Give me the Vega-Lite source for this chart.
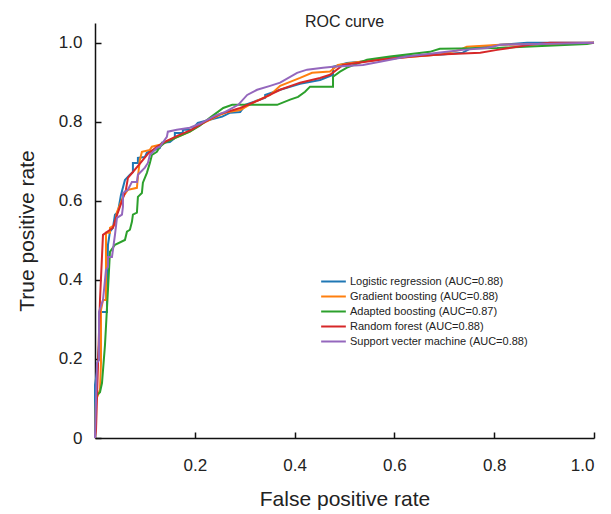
{
  "$schema": "https://vega.github.io/schema/vega-lite/v6.json",
  "width": 499,
  "height": 415,
  "autosize": {"type": "none"},
  "padding": {"left": 95, "top": 23, "right": 17, "bottom": 76},
  "background": "white",
  "title": {"text": "ROC curve", "fontSize": 16, "font": "Liberation Sans", "fontWeight": "normal", "color": "#222", "anchor": "middle", "offset": -7},
  "config": {
    "view": {"stroke": null},
    "axis": {"grid": false, "domainColor": "#111", "domainWidth": 1.5, "tickColor": "#111", "tickWidth": 1.5, "labelColor": "#222", "titleColor": "#222", "labelFont": "Liberation Sans", "titleFont": "Liberation Sans", "titleFontWeight": "normal"},
    "legend": {"labelFont": "Liberation Sans"}
  },
  "data": {"values": [
    {"m":"Logistic regression (AUC=0.88)","i":0,"x":0,"y":0},
    {"m":"Logistic regression (AUC=0.88)","i":1,"x":0,"y":0.134},
    {"m":"Logistic regression (AUC=0.88)","i":2,"x":0.004,"y":0.167},
    {"m":"Logistic regression (AUC=0.88)","i":3,"x":0.006,"y":0.197},
    {"m":"Logistic regression (AUC=0.88)","i":4,"x":0.010,"y":0.273},
    {"m":"Logistic regression (AUC=0.88)","i":5,"x":0.010,"y":0.319},
    {"m":"Logistic regression (AUC=0.88)","i":6,"x":0.024,"y":0.319},
    {"m":"Logistic regression (AUC=0.88)","i":7,"x":0.024,"y":0.362},
    {"m":"Logistic regression (AUC=0.88)","i":8,"x":0.026,"y":0.489},
    {"m":"Logistic regression (AUC=0.88)","i":9,"x":0.030,"y":0.522},
    {"m":"Logistic regression (AUC=0.88)","i":10,"x":0.036,"y":0.532},
    {"m":"Logistic regression (AUC=0.88)","i":11,"x":0.040,"y":0.565},
    {"m":"Logistic regression (AUC=0.88)","i":12,"x":0.046,"y":0.572},
    {"m":"Logistic regression (AUC=0.88)","i":13,"x":0.052,"y":0.615},
    {"m":"Logistic regression (AUC=0.88)","i":14,"x":0.060,"y":0.653},
    {"m":"Logistic regression (AUC=0.88)","i":15,"x":0.070,"y":0.666},
    {"m":"Logistic regression (AUC=0.88)","i":16,"x":0.076,"y":0.673},
    {"m":"Logistic regression (AUC=0.88)","i":17,"x":0.076,"y":0.696},
    {"m":"Logistic regression (AUC=0.88)","i":18,"x":0.086,"y":0.696},
    {"m":"Logistic regression (AUC=0.88)","i":19,"x":0.086,"y":0.709},
    {"m":"Logistic regression (AUC=0.88)","i":20,"x":0.100,"y":0.711},
    {"m":"Logistic regression (AUC=0.88)","i":21,"x":0.104,"y":0.722},
    {"m":"Logistic regression (AUC=0.88)","i":22,"x":0.130,"y":0.734},
    {"m":"Logistic regression (AUC=0.88)","i":23,"x":0.134,"y":0.747},
    {"m":"Logistic regression (AUC=0.88)","i":24,"x":0.150,"y":0.749},
    {"m":"Logistic regression (AUC=0.88)","i":25,"x":0.160,"y":0.759},
    {"m":"Logistic regression (AUC=0.88)","i":26,"x":0.160,"y":0.772},
    {"m":"Logistic regression (AUC=0.88)","i":27,"x":0.176,"y":0.772},
    {"m":"Logistic regression (AUC=0.88)","i":28,"x":0.176,"y":0.780},
    {"m":"Logistic regression (AUC=0.88)","i":29,"x":0.194,"y":0.780},
    {"m":"Logistic regression (AUC=0.88)","i":30,"x":0.206,"y":0.797},
    {"m":"Logistic regression (AUC=0.88)","i":31,"x":0.230,"y":0.805},
    {"m":"Logistic regression (AUC=0.88)","i":32,"x":0.255,"y":0.813},
    {"m":"Logistic regression (AUC=0.88)","i":33,"x":0.271,"y":0.823},
    {"m":"Logistic regression (AUC=0.88)","i":34,"x":0.291,"y":0.825},
    {"m":"Logistic regression (AUC=0.88)","i":35,"x":0.297,"y":0.835},
    {"m":"Logistic regression (AUC=0.88)","i":36,"x":0.301,"y":0.843},
    {"m":"Logistic regression (AUC=0.88)","i":37,"x":0.341,"y":0.861},
    {"m":"Logistic regression (AUC=0.88)","i":38,"x":0.341,"y":0.868},
    {"m":"Logistic regression (AUC=0.88)","i":39,"x":0.371,"y":0.881},
    {"m":"Logistic regression (AUC=0.88)","i":40,"x":0.411,"y":0.896},
    {"m":"Logistic regression (AUC=0.88)","i":41,"x":0.451,"y":0.906},
    {"m":"Logistic regression (AUC=0.88)","i":42,"x":0.477,"y":0.919},
    {"m":"Logistic regression (AUC=0.88)","i":43,"x":0.477,"y":0.939},
    {"m":"Logistic regression (AUC=0.88)","i":44,"x":0.505,"y":0.949},
    {"m":"Logistic regression (AUC=0.88)","i":45,"x":0.531,"y":0.952},
    {"m":"Logistic regression (AUC=0.88)","i":46,"x":0.611,"y":0.965},
    {"m":"Logistic regression (AUC=0.88)","i":47,"x":0.697,"y":0.970},
    {"m":"Logistic regression (AUC=0.88)","i":48,"x":0.737,"y":0.975},
    {"m":"Logistic regression (AUC=0.88)","i":49,"x":0.752,"y":0.985},
    {"m":"Logistic regression (AUC=0.88)","i":50,"x":0.812,"y":0.995},
    {"m":"Logistic regression (AUC=0.88)","i":51,"x":0.866,"y":1.0},
    {"m":"Logistic regression (AUC=0.88)","i":52,"x":1.0,"y":1.0},

    {"m":"Gradient boosting (AUC=0.88)","i":0,"x":0,"y":0},
    {"m":"Gradient boosting (AUC=0.88)","i":1,"x":0.002,"y":0.096},
    {"m":"Gradient boosting (AUC=0.88)","i":2,"x":0.010,"y":0.122},
    {"m":"Gradient boosting (AUC=0.88)","i":3,"x":0.012,"y":0.190},
    {"m":"Gradient boosting (AUC=0.88)","i":4,"x":0.012,"y":0.324},
    {"m":"Gradient boosting (AUC=0.88)","i":5,"x":0.016,"y":0.349},
    {"m":"Gradient boosting (AUC=0.88)","i":6,"x":0.022,"y":0.349},
    {"m":"Gradient boosting (AUC=0.88)","i":7,"x":0.022,"y":0.494},
    {"m":"Gradient boosting (AUC=0.88)","i":8,"x":0.022,"y":0.519},
    {"m":"Gradient boosting (AUC=0.88)","i":9,"x":0.030,"y":0.519},
    {"m":"Gradient boosting (AUC=0.88)","i":10,"x":0.030,"y":0.532},
    {"m":"Gradient boosting (AUC=0.88)","i":11,"x":0.040,"y":0.539},
    {"m":"Gradient boosting (AUC=0.88)","i":12,"x":0.044,"y":0.572},
    {"m":"Gradient boosting (AUC=0.88)","i":13,"x":0.050,"y":0.590},
    {"m":"Gradient boosting (AUC=0.88)","i":14,"x":0.056,"y":0.610},
    {"m":"Gradient boosting (AUC=0.88)","i":15,"x":0.066,"y":0.628},
    {"m":"Gradient boosting (AUC=0.88)","i":16,"x":0.084,"y":0.633},
    {"m":"Gradient boosting (AUC=0.88)","i":17,"x":0.086,"y":0.661},
    {"m":"Gradient boosting (AUC=0.88)","i":18,"x":0.090,"y":0.704},
    {"m":"Gradient boosting (AUC=0.88)","i":19,"x":0.094,"y":0.724},
    {"m":"Gradient boosting (AUC=0.88)","i":20,"x":0.110,"y":0.729},
    {"m":"Gradient boosting (AUC=0.88)","i":21,"x":0.114,"y":0.737},
    {"m":"Gradient boosting (AUC=0.88)","i":22,"x":0.130,"y":0.742},
    {"m":"Gradient boosting (AUC=0.88)","i":23,"x":0.140,"y":0.749},
    {"m":"Gradient boosting (AUC=0.88)","i":24,"x":0.160,"y":0.759},
    {"m":"Gradient boosting (AUC=0.88)","i":25,"x":0.190,"y":0.775},
    {"m":"Gradient boosting (AUC=0.88)","i":26,"x":0.210,"y":0.792},
    {"m":"Gradient boosting (AUC=0.88)","i":27,"x":0.230,"y":0.805},
    {"m":"Gradient boosting (AUC=0.88)","i":28,"x":0.251,"y":0.818},
    {"m":"Gradient boosting (AUC=0.88)","i":29,"x":0.267,"y":0.825},
    {"m":"Gradient boosting (AUC=0.88)","i":30,"x":0.291,"y":0.830},
    {"m":"Gradient boosting (AUC=0.88)","i":31,"x":0.321,"y":0.851},
    {"m":"Gradient boosting (AUC=0.88)","i":32,"x":0.351,"y":0.868},
    {"m":"Gradient boosting (AUC=0.88)","i":33,"x":0.371,"y":0.891},
    {"m":"Gradient boosting (AUC=0.88)","i":34,"x":0.391,"y":0.901},
    {"m":"Gradient boosting (AUC=0.88)","i":35,"x":0.411,"y":0.911},
    {"m":"Gradient boosting (AUC=0.88)","i":36,"x":0.435,"y":0.924},
    {"m":"Gradient boosting (AUC=0.88)","i":37,"x":0.471,"y":0.927},
    {"m":"Gradient boosting (AUC=0.88)","i":38,"x":0.487,"y":0.944},
    {"m":"Gradient boosting (AUC=0.88)","i":39,"x":0.531,"y":0.952},
    {"m":"Gradient boosting (AUC=0.88)","i":40,"x":0.611,"y":0.962},
    {"m":"Gradient boosting (AUC=0.88)","i":41,"x":0.691,"y":0.970},
    {"m":"Gradient boosting (AUC=0.88)","i":42,"x":0.731,"y":0.982},
    {"m":"Gradient boosting (AUC=0.88)","i":43,"x":0.745,"y":0.990},
    {"m":"Gradient boosting (AUC=0.88)","i":44,"x":0.812,"y":0.995},
    {"m":"Gradient boosting (AUC=0.88)","i":45,"x":0.932,"y":0.997},
    {"m":"Gradient boosting (AUC=0.88)","i":46,"x":1.0,"y":1.0},

    {"m":"Adapted boosting (AUC=0.87)","i":0,"x":0,"y":0},
    {"m":"Adapted boosting (AUC=0.87)","i":1,"x":0.002,"y":0.106},
    {"m":"Adapted boosting (AUC=0.87)","i":2,"x":0.010,"y":0.116},
    {"m":"Adapted boosting (AUC=0.87)","i":3,"x":0.014,"y":0.139},
    {"m":"Adapted boosting (AUC=0.87)","i":4,"x":0.020,"y":0.235},
    {"m":"Adapted boosting (AUC=0.87)","i":5,"x":0.026,"y":0.375},
    {"m":"Adapted boosting (AUC=0.87)","i":6,"x":0.030,"y":0.471},
    {"m":"Adapted boosting (AUC=0.87)","i":7,"x":0.040,"y":0.489},
    {"m":"Adapted boosting (AUC=0.87)","i":8,"x":0.060,"y":0.501},
    {"m":"Adapted boosting (AUC=0.87)","i":9,"x":0.064,"y":0.522},
    {"m":"Adapted boosting (AUC=0.87)","i":10,"x":0.070,"y":0.527},
    {"m":"Adapted boosting (AUC=0.87)","i":11,"x":0.074,"y":0.547},
    {"m":"Adapted boosting (AUC=0.87)","i":12,"x":0.076,"y":0.565},
    {"m":"Adapted boosting (AUC=0.87)","i":13,"x":0.084,"y":0.570},
    {"m":"Adapted boosting (AUC=0.87)","i":14,"x":0.086,"y":0.610},
    {"m":"Adapted boosting (AUC=0.87)","i":15,"x":0.094,"y":0.620},
    {"m":"Adapted boosting (AUC=0.87)","i":16,"x":0.096,"y":0.646},
    {"m":"Adapted boosting (AUC=0.87)","i":17,"x":0.104,"y":0.671},
    {"m":"Adapted boosting (AUC=0.87)","i":18,"x":0.110,"y":0.696},
    {"m":"Adapted boosting (AUC=0.87)","i":19,"x":0.114,"y":0.716},
    {"m":"Adapted boosting (AUC=0.87)","i":20,"x":0.124,"y":0.724},
    {"m":"Adapted boosting (AUC=0.87)","i":21,"x":0.130,"y":0.737},
    {"m":"Adapted boosting (AUC=0.87)","i":22,"x":0.140,"y":0.747},
    {"m":"Adapted boosting (AUC=0.87)","i":23,"x":0.160,"y":0.759},
    {"m":"Adapted boosting (AUC=0.87)","i":24,"x":0.190,"y":0.775},
    {"m":"Adapted boosting (AUC=0.87)","i":25,"x":0.210,"y":0.790},
    {"m":"Adapted boosting (AUC=0.87)","i":26,"x":0.230,"y":0.810},
    {"m":"Adapted boosting (AUC=0.87)","i":27,"x":0.257,"y":0.835},
    {"m":"Adapted boosting (AUC=0.87)","i":28,"x":0.275,"y":0.843},
    {"m":"Adapted boosting (AUC=0.87)","i":29,"x":0.365,"y":0.843},
    {"m":"Adapted boosting (AUC=0.87)","i":30,"x":0.391,"y":0.856},
    {"m":"Adapted boosting (AUC=0.87)","i":31,"x":0.407,"y":0.863},
    {"m":"Adapted boosting (AUC=0.87)","i":32,"x":0.421,"y":0.876},
    {"m":"Adapted boosting (AUC=0.87)","i":33,"x":0.431,"y":0.889},
    {"m":"Adapted boosting (AUC=0.87)","i":34,"x":0.477,"y":0.889},
    {"m":"Adapted boosting (AUC=0.87)","i":35,"x":0.477,"y":0.914},
    {"m":"Adapted boosting (AUC=0.87)","i":36,"x":0.491,"y":0.927},
    {"m":"Adapted boosting (AUC=0.87)","i":37,"x":0.505,"y":0.937},
    {"m":"Adapted boosting (AUC=0.87)","i":38,"x":0.545,"y":0.957},
    {"m":"Adapted boosting (AUC=0.87)","i":39,"x":0.591,"y":0.965},
    {"m":"Adapted boosting (AUC=0.87)","i":40,"x":0.671,"y":0.977},
    {"m":"Adapted boosting (AUC=0.87)","i":41,"x":0.691,"y":0.985},
    {"m":"Adapted boosting (AUC=0.87)","i":42,"x":0.806,"y":0.987},
    {"m":"Adapted boosting (AUC=0.87)","i":43,"x":0.986,"y":0.997},
    {"m":"Adapted boosting (AUC=0.87)","i":44,"x":1.0,"y":1.0},

    {"m":"Random forest (AUC=0.88)","i":0,"x":0,"y":0},
    {"m":"Random forest (AUC=0.88)","i":1,"x":0.002,"y":0.020},
    {"m":"Random forest (AUC=0.88)","i":2,"x":0.010,"y":0.349},
    {"m":"Random forest (AUC=0.88)","i":3,"x":0.016,"y":0.514},
    {"m":"Random forest (AUC=0.88)","i":4,"x":0.036,"y":0.532},
    {"m":"Random forest (AUC=0.88)","i":5,"x":0.042,"y":0.557},
    {"m":"Random forest (AUC=0.88)","i":6,"x":0.052,"y":0.592},
    {"m":"Random forest (AUC=0.88)","i":7,"x":0.062,"y":0.628},
    {"m":"Random forest (AUC=0.88)","i":8,"x":0.066,"y":0.658},
    {"m":"Random forest (AUC=0.88)","i":9,"x":0.076,"y":0.673},
    {"m":"Random forest (AUC=0.88)","i":10,"x":0.090,"y":0.694},
    {"m":"Random forest (AUC=0.88)","i":11,"x":0.106,"y":0.719},
    {"m":"Random forest (AUC=0.88)","i":12,"x":0.124,"y":0.737},
    {"m":"Random forest (AUC=0.88)","i":13,"x":0.140,"y":0.749},
    {"m":"Random forest (AUC=0.88)","i":14,"x":0.166,"y":0.765},
    {"m":"Random forest (AUC=0.88)","i":15,"x":0.194,"y":0.780},
    {"m":"Random forest (AUC=0.88)","i":16,"x":0.220,"y":0.800},
    {"m":"Random forest (AUC=0.88)","i":17,"x":0.251,"y":0.820},
    {"m":"Random forest (AUC=0.88)","i":18,"x":0.291,"y":0.835},
    {"m":"Random forest (AUC=0.88)","i":19,"x":0.331,"y":0.856},
    {"m":"Random forest (AUC=0.88)","i":20,"x":0.371,"y":0.881},
    {"m":"Random forest (AUC=0.88)","i":21,"x":0.411,"y":0.899},
    {"m":"Random forest (AUC=0.88)","i":22,"x":0.451,"y":0.911},
    {"m":"Random forest (AUC=0.88)","i":23,"x":0.471,"y":0.919},
    {"m":"Random forest (AUC=0.88)","i":24,"x":0.497,"y":0.944},
    {"m":"Random forest (AUC=0.88)","i":25,"x":0.525,"y":0.949},
    {"m":"Random forest (AUC=0.88)","i":26,"x":0.571,"y":0.957},
    {"m":"Random forest (AUC=0.88)","i":27,"x":0.637,"y":0.965},
    {"m":"Random forest (AUC=0.88)","i":28,"x":0.691,"y":0.970},
    {"m":"Random forest (AUC=0.88)","i":29,"x":0.772,"y":0.975},
    {"m":"Random forest (AUC=0.88)","i":30,"x":0.806,"y":0.982},
    {"m":"Random forest (AUC=0.88)","i":31,"x":0.872,"y":0.995},
    {"m":"Random forest (AUC=0.88)","i":32,"x":0.912,"y":1.0},
    {"m":"Random forest (AUC=0.88)","i":33,"x":1.0,"y":1.0},

    {"m":"Support vecter machine (AUC=0.88)","i":0,"x":0,"y":0},
    {"m":"Support vecter machine (AUC=0.88)","i":1,"x":0.002,"y":0.096},
    {"m":"Support vecter machine (AUC=0.88)","i":2,"x":0.004,"y":0.190},
    {"m":"Support vecter machine (AUC=0.88)","i":3,"x":0.008,"y":0.197},
    {"m":"Support vecter machine (AUC=0.88)","i":4,"x":0.008,"y":0.319},
    {"m":"Support vecter machine (AUC=0.88)","i":5,"x":0.016,"y":0.349},
    {"m":"Support vecter machine (AUC=0.88)","i":6,"x":0.022,"y":0.425},
    {"m":"Support vecter machine (AUC=0.88)","i":7,"x":0.026,"y":0.433},
    {"m":"Support vecter machine (AUC=0.88)","i":8,"x":0.026,"y":0.458},
    {"m":"Support vecter machine (AUC=0.88)","i":9,"x":0.034,"y":0.458},
    {"m":"Support vecter machine (AUC=0.88)","i":10,"x":0.040,"y":0.514},
    {"m":"Support vecter machine (AUC=0.88)","i":11,"x":0.044,"y":0.557},
    {"m":"Support vecter machine (AUC=0.88)","i":12,"x":0.054,"y":0.565},
    {"m":"Support vecter machine (AUC=0.88)","i":13,"x":0.056,"y":0.585},
    {"m":"Support vecter machine (AUC=0.88)","i":14,"x":0.056,"y":0.620},
    {"m":"Support vecter machine (AUC=0.88)","i":15,"x":0.066,"y":0.628},
    {"m":"Support vecter machine (AUC=0.88)","i":16,"x":0.074,"y":0.648},
    {"m":"Support vecter machine (AUC=0.88)","i":17,"x":0.084,"y":0.648},
    {"m":"Support vecter machine (AUC=0.88)","i":18,"x":0.086,"y":0.666},
    {"m":"Support vecter machine (AUC=0.88)","i":19,"x":0.100,"y":0.684},
    {"m":"Support vecter machine (AUC=0.88)","i":20,"x":0.106,"y":0.696},
    {"m":"Support vecter machine (AUC=0.88)","i":21,"x":0.110,"y":0.716},
    {"m":"Support vecter machine (AUC=0.88)","i":22,"x":0.124,"y":0.734},
    {"m":"Support vecter machine (AUC=0.88)","i":23,"x":0.130,"y":0.737},
    {"m":"Support vecter machine (AUC=0.88)","i":24,"x":0.144,"y":0.762},
    {"m":"Support vecter machine (AUC=0.88)","i":25,"x":0.146,"y":0.775},
    {"m":"Support vecter machine (AUC=0.88)","i":26,"x":0.164,"y":0.780},
    {"m":"Support vecter machine (AUC=0.88)","i":27,"x":0.190,"y":0.785},
    {"m":"Support vecter machine (AUC=0.88)","i":28,"x":0.210,"y":0.795},
    {"m":"Support vecter machine (AUC=0.88)","i":29,"x":0.240,"y":0.815},
    {"m":"Support vecter machine (AUC=0.88)","i":30,"x":0.261,"y":0.825},
    {"m":"Support vecter machine (AUC=0.88)","i":31,"x":0.287,"y":0.843},
    {"m":"Support vecter machine (AUC=0.88)","i":32,"x":0.305,"y":0.868},
    {"m":"Support vecter machine (AUC=0.88)","i":33,"x":0.325,"y":0.881},
    {"m":"Support vecter machine (AUC=0.88)","i":34,"x":0.351,"y":0.891},
    {"m":"Support vecter machine (AUC=0.88)","i":35,"x":0.371,"y":0.899},
    {"m":"Support vecter machine (AUC=0.88)","i":36,"x":0.405,"y":0.924},
    {"m":"Support vecter machine (AUC=0.88)","i":37,"x":0.425,"y":0.932},
    {"m":"Support vecter machine (AUC=0.88)","i":38,"x":0.457,"y":0.937},
    {"m":"Support vecter machine (AUC=0.88)","i":39,"x":0.477,"y":0.939},
    {"m":"Support vecter machine (AUC=0.88)","i":40,"x":0.537,"y":0.944},
    {"m":"Support vecter machine (AUC=0.88)","i":41,"x":0.571,"y":0.952},
    {"m":"Support vecter machine (AUC=0.88)","i":42,"x":0.625,"y":0.965},
    {"m":"Support vecter machine (AUC=0.88)","i":43,"x":0.705,"y":0.977},
    {"m":"Support vecter machine (AUC=0.88)","i":44,"x":0.737,"y":0.982},
    {"m":"Support vecter machine (AUC=0.88)","i":45,"x":0.786,"y":0.987},
    {"m":"Support vecter machine (AUC=0.88)","i":46,"x":0.812,"y":0.995},
    {"m":"Support vecter machine (AUC=0.88)","i":47,"x":0.892,"y":0.997},
    {"m":"Support vecter machine (AUC=0.88)","i":48,"x":1.0,"y":1.0}
  ]},
  "mark": {"type": "line", "strokeWidth": 2, "interpolate": "linear"},
  "encoding": {
    "x": {"field": "x", "type": "quantitative", "scale": {"domain": [0, 1], "nice": false},
      "axis": {"title": "False positive rate", "values": [0.2, 0.4, 0.6, 0.8, 1.0], "format": ".1f", "tickSize": -6, "labelPadding": 25, "labelFontSize": 17, "titleFontSize": 21, "titleX": 249.5, "titleY": 67, "titleBaseline": "alphabetic"}},
    "y": {"field": "y", "type": "quantitative", "scale": {"domain": [0, 1.05], "nice": false},
      "axis": {"title": "True positive rate", "values": [0, 0.2, 0.4, 0.6, 0.8, 1.0], "labelExpr": "datum.value == 0 ? '0' : format(datum.value, '.1f')", "tickSize": -6, "labelPadding": 19, "labelFontSize": 17, "titleFontSize": 21, "titleX": -62, "titleY": 207.5, "titleBaseline": "alphabetic", "titleAngle": -90}},
    "color": {"field": "m", "type": "nominal",
      "scale": {"domain": ["Logistic regression (AUC=0.88)", "Gradient boosting (AUC=0.88)", "Adapted boosting (AUC=0.87)", "Random forest (AUC=0.88)", "Support vecter machine (AUC=0.88)"], "range": ["#1f77b4", "#ff7f0e", "#2ca02c", "#d62728", "#9467bd"]},
      "legend": {"title": null, "orient": "none", "legendX": 231, "legendY": 251, "symbolType": "M-1.9,0H1.9", "symbolSize": 169, "symbolStrokeWidth": 2, "labelFontSize": 11, "labelColor": "#222", "labelLimit": 0, "rowPadding": 2, "labelOffset": 9}},
    "order": {"field": "i", "type": "quantitative"}
  }
}
